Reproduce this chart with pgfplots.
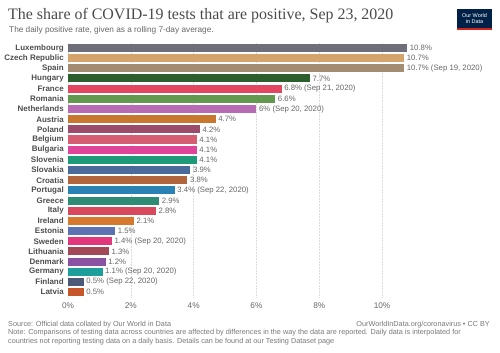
\documentclass[border=0pt]{standalone}
\usepackage{pgfplots}
\pgfplotsset{compat=1.18}
\usepackage{fontspec}
\setmainfont{Liberation Sans}
\newfontfamily\titlefont{Liberation Serif}
\definecolor{titlegray}{HTML}{4A4A4A}
\definecolor{subgray}{HTML}{666666}
\definecolor{labgray}{HTML}{666666}
\definecolor{catgray}{HTML}{4D4D4D}
\definecolor{footgray}{HTML}{777777}
\definecolor{gridgray}{HTML}{DDDDDD}
\definecolor{owidblue}{HTML}{002147}
\definecolor{owidred}{HTML}{CE261E}
\definecolor{cLux}{HTML}{6F6F7A}
\definecolor{cCze}{HTML}{D5A46C}
\definecolor{cSpa}{HTML}{A38C72}
\definecolor{cHun}{HTML}{2C5F2D}
\definecolor{cFra}{HTML}{E34660}
\definecolor{cRom}{HTML}{62994F}
\definecolor{cNet}{HTML}{B66BB2}
\definecolor{cAut}{HTML}{C8782E}
\definecolor{cPol}{HTML}{9B4C6B}
\definecolor{cBel}{HTML}{D65C74}
\definecolor{cBul}{HTML}{E0449A}
\definecolor{cSlo}{HTML}{1D9A78}
\definecolor{cSvk}{HTML}{4A6A9C}
\definecolor{cCro}{HTML}{B0653C}
\definecolor{cPor}{HTML}{2A82B4}
\definecolor{cGre}{HTML}{2E8B74}
\definecolor{cIta}{HTML}{D9495E}
\definecolor{cIre}{HTML}{D7782F}
\definecolor{cEst}{HTML}{5B72B3}
\definecolor{cSwe}{HTML}{E2367D}
\definecolor{cLit}{HTML}{A34856}
\definecolor{cDen}{HTML}{8A52A3}
\definecolor{cGer}{HTML}{1E9E9A}
\definecolor{cFin}{HTML}{4C5A78}
\definecolor{cLat}{HTML}{C4562A}
\begin{document}
\begin{tikzpicture}
\useasboundingbox (0bp,0bp) rectangle (500bp,-353bp);
\node[anchor=base west, inner sep=0, text=titlegray, font=\titlefont\fontsize{16}{18}\selectfont] at (8bp,-19.5bp) {The share of COVID-19 tests that are positive, Sep 23, 2020};
\node[anchor=base west, inner sep=0, text=subgray, font=\fontsize{8.3}{9}\selectfont] at (9bp,-32bp) {The daily positive rate, given as a rolling 7-day average.};
\fill[owidblue] (457bp,-9bp) rectangle (492bp,-28bp);
\fill[owidred] (457bp,-28bp) rectangle (492bp,-29.5bp);
\node[align=center, text=white, inner sep=0, font=\fontsize{5.5}{6}\selectfont] at (474.5bp,-18.5bp) {Our World\\in Data};
\begin{axis}[
  at={(68bp,-42.9bp)}, anchor=north west, scale only axis,
  width=424bp, height=254.2bp,
  xmin=0, xmax=13.5, ymin=-0.5, ymax=24.5, y dir=reverse,
  xbar, bar width=8bp, bar shift=0pt,
  axis line style={draw=none}, tick style={draw=none},
  xmajorgrids, grid style={gridgray, dash pattern=on 2pt off 1pt, line width=0.6pt},
  xtick={0,2,4,6,8,10}, xticklabels={0\%,2\%,4\%,6\%,8\%,10\%},
  xticklabel style={text=labgray, font=\fontsize{8.3}{9}\selectfont, yshift=-2bp},
  ytick={0,...,24},
  yticklabels={Luxembourg,Czech Republic,Spain,Hungary,France,Romania,Netherlands,Austria,Poland,Belgium,Bulgaria,Slovenia,Slovakia,Croatia,Portugal,Greece,Italy,Ireland,Estonia,Sweden,Lithuania,Denmark,Germany,Finland,Latvia},
  yticklabel style={text=catgray, font=\bfseries\fontsize{8}{9}\selectfont, xshift=3.5bp},
  nodes near coords, point meta=explicit symbolic,
  every node near coord/.append style={text=labgray, font=\fontsize{7.8}{8.5}\selectfont, anchor=west, inner sep=2.5bp},
  clip=false,
]
\addplot[fill=cLux, draw=none] coordinates {(10.8,0) [10.8\%]};
\addplot[fill=cCze, draw=none] coordinates {(10.7,1) [10.7\%]};
\addplot[fill=cSpa, draw=none] coordinates {(10.7,2) [10.7\% (Sep 19, 2020)]};
\addplot[fill=cHun, draw=none] coordinates {(7.7,3) [7.7\%]};
\addplot[fill=cFra, draw=none] coordinates {(6.8,4) [6.8\% (Sep 21, 2020)]};
\addplot[fill=cRom, draw=none] coordinates {(6.6,5) [6.6\%]};
\addplot[fill=cNet, draw=none] coordinates {(6.0,6) [6\% (Sep 20, 2020)]};
\addplot[fill=cAut, draw=none] coordinates {(4.7,7) [4.7\%]};
\addplot[fill=cPol, draw=none] coordinates {(4.2,8) [4.2\%]};
\addplot[fill=cBel, draw=none] coordinates {(4.1,9) [4.1\%]};
\addplot[fill=cBul, draw=none] coordinates {(4.1,10) [4.1\%]};
\addplot[fill=cSlo, draw=none] coordinates {(4.1,11) [4.1\%]};
\addplot[fill=cSvk, draw=none] coordinates {(3.9,12) [3.9\%]};
\addplot[fill=cCro, draw=none] coordinates {(3.8,13) [3.8\%]};
\addplot[fill=cPor, draw=none] coordinates {(3.4,14) [3.4\% (Sep 22, 2020)]};
\addplot[fill=cGre, draw=none] coordinates {(2.9,15) [2.9\%]};
\addplot[fill=cIta, draw=none] coordinates {(2.8,16) [2.8\%]};
\addplot[fill=cIre, draw=none] coordinates {(2.1,17) [2.1\%]};
\addplot[fill=cEst, draw=none] coordinates {(1.5,18) [1.5\%]};
\addplot[fill=cSwe, draw=none] coordinates {(1.4,19) [1.4\% (Sep 20, 2020)]};
\addplot[fill=cLit, draw=none] coordinates {(1.3,20) [1.3\%]};
\addplot[fill=cDen, draw=none] coordinates {(1.2,21) [1.2\%]};
\addplot[fill=cGer, draw=none] coordinates {(1.1,22) [1.1\% (Sep 20, 2020)]};
\addplot[fill=cFin, draw=none] coordinates {(0.5,23) [0.5\% (Sep 22, 2020)]};
\addplot[fill=cLat, draw=none] coordinates {(0.5,24) [0.5\%]};
\end{axis}
\node[anchor=base west, inner sep=0, text=footgray, font=\fontsize{7.3}{8}\selectfont] at (8bp,-326bp) {Source: Official data collated by Our World in Data};
\node[anchor=base east, inner sep=0, text=footgray, font=\fontsize{7.3}{8}\selectfont] at (490bp,-326bp) {OurWorldInData.org/coronavirus • CC BY};
\node[anchor=base west, inner sep=0, text=footgray, font=\fontsize{7.3}{8}\selectfont] at (8bp,-334.5bp) {Note: Comparisons of testing data across countries are affected by differences in the way the data are reported. Daily data is interpolated for};
\node[anchor=base west, inner sep=0, text=footgray, font=\fontsize{7.3}{8}\selectfont] at (8bp,-343bp) {countries not reporting testing data on a daily basis. Details can be found at our Testing Dataset page};
\end{tikzpicture}
\end{document}
